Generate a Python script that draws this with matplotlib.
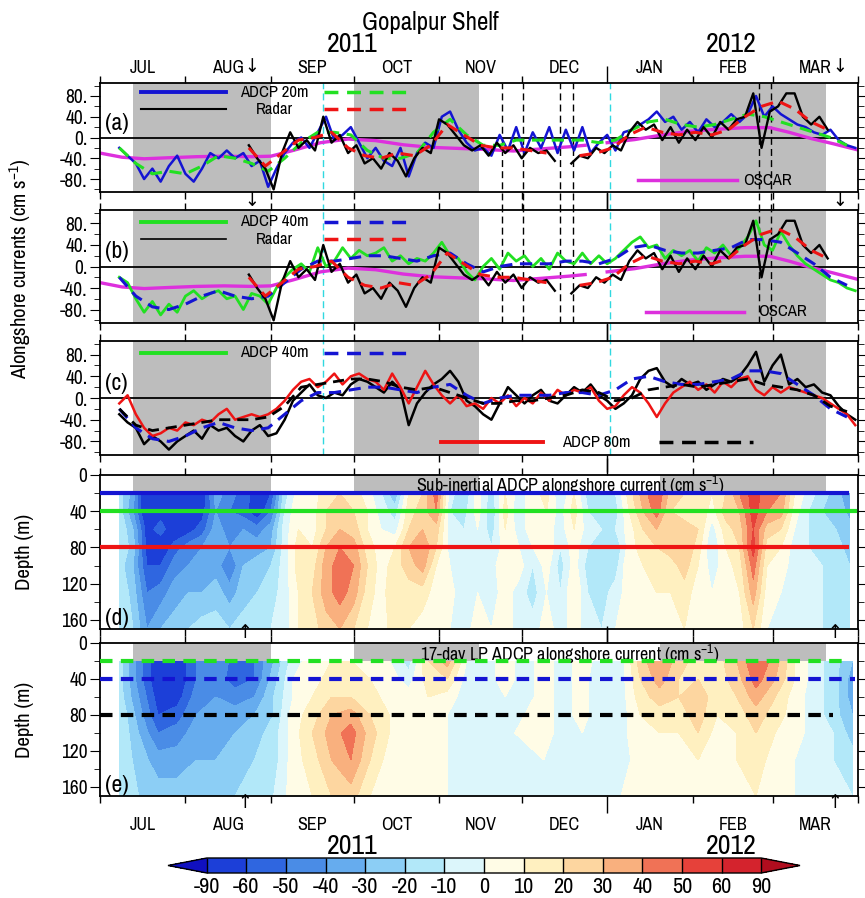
import numpy as np
import matplotlib
matplotlib.use("Agg")
import matplotlib.pyplot as plt
from matplotlib.colors import ListedColormap, BoundaryNorm
from matplotlib.transforms import blended_transform_factory
from matplotlib import font_manager

# narrow sans if one is installed, otherwise DejaVu
narrow = [f.name for f in font_manager.fontManager.ttflist
          if "Narrow" in f.name or "Condensed" in f.name]
plt.rcParams["font.family"] = narrow[:1] + ["DejaVu Sans"]
plt.rcParams["font.stretch"] = "condensed"
plt.rcParams["font.weight"] = "bold"
plt.rcParams["mathtext.default"] = "regular"

nan = np.nan

# time axis: days since 2011-07-01
month_start = [0, 31, 62, 92, 123, 153, 184, 215, 244, 275]
month_name = ["JUL", "AUG", "SEP", "OCT", "NOV", "DEC", "JAN", "FEB", "MAR"]

gray_spans = [(12, 62), (92, 137.5), (203, 263.5)]
cyan_days = [81, 185]
event_days = [146, 153.5, 167, 171.5, 239, 243.5]
down_arrow_days = [55, 268.5]
up_arrow_days = [52.5, 266.5]

# ADCP 20 m alongshore current, 3-day samples from day 7
adcp20 = [-20, -35, -50, -80, -60, -85, -55, -35, -70, -85,
          -60, -30, -40, -25, -40, -30, -55, -45, -95, -60,
          -30, -10, 0, -20, 10, 40, -5, 5, 20, -10,
          -40, -20, -45, -55, -20, -75, -30, -10, -20, 40,
          50, 15, -10, -25, -20, -35, 5, -25, 20, -30,
          10, -20, 20, -30, 15, -25, 20, -30, -10, 5,
          -25, 10, 15, 25, 35, 50, 30, 40, 15, 30,
          10, 35, 20, 30, 45, 30, 45, 80, 40, 60,
          45, 35, 25, 20, 10, 5, 15, -5, -15, -20]
# low-passed ADCP 20 m, 6-day samples from day 7
adcp20_lp = [-20, -50, -70, -65, -70, -55, -35, -40, -50, -65,
             -40, -10, 10, 10, 5, -25, -40, -40, -30, 10,
             35, 5, -15, -15, -5, -5, -5, -5, -5, -10,
             -5, 15, 30, 35, 25, 20, 25, 35, 45, 40,
             30, 20, 10, 0, -15]

adcp40 = [-20, -30, -60, -85, -65, -90, -70, -85, -55, -45,
          -60, -50, -45, -60, -55, -80, -50, -55, -70, -40,
          -20, -5, 5, -10, 35, 0, 10, 35, 15, 30,
          20, 25, 35, 10, 20, 5, 15, 10, 25, 45,
          20, 15, -10, -25, 0, 15, -5, 25, 10, 20,
          0, 15, -5, 25, 10, 5, 25, 5, 20, 5,
          15, 30, 45, 55, 35, 40, 15, 30, 20, 30,
          10, 35, 25, 40, 20, 35, 55, 85, 40, 30,
          65, 40, 20, 5, -5, -15, -25, -30, -40, -45]
adcp40_lp = [-20, -55, -75, -80, -70, -55, -45, -55, -60, -55,
             -30, -5, 10, 10, 15, 20, 20, 15, 10, 20,
             25, 5, -10, 0, 5, 5, 5, 10, 10, 5,
             15, 35, 40, 30, 25, 25, 30, 35, 50, 50,
             45, 25, 5, -20, -35]

adcp_c_solid = [-30, -45, -55, -85, -70, -80, -95, -80, -70, -60,
                -75, -50, -60, -55, -70, -80, -60, -50, -70, -65,
                -40, -5, 10, 25, 5, 0, 10, 5, 25, 35,
                30, 20, 10, 30, 15, -50, -10, 10, 25, 35,
                50, 30, -5, -15, -30, -40, -10, 20, 5, -10,
                5, 15, -5, -10, 5, 20, 10, 25, 5, -5,
                -20, -10, 5, 35, 50, 55, 30, 20, 35, 25,
                30, 15, 25, 35, 30, 40, 60, 85, 30, 60,
                80, 25, 35, 20, 25, 10, 5, -15, -30, -40]
adcp80 = [-10, 5, -30, -55, -70, -65, -55, -60, -45, -50,
          -40, -45, -30, -20, -40, -35, -30, -35, -30, -20,
          -5, 15, 30, 35, 20, 30, 45, 25, 40, 45,
          35, 30, 15, 45, 20, -10, 20, 50, 25, 5,
          -10, 5, -15, -10, -20, 0, -10, 5, -15, 0,
          -10, 10, -5, 15, 5, 15, 10, 20, -5, -20,
          -15, 5, 20, 10, -10, -35, -10, 10, 20, 30,
          15, 25, 10, 30, 20, 35, 40, 15, 5, 20,
          10, 20, 15, 10, 5, 0, -10, -20, -30, -50]
adcp80_lp = [-20, -50, -60, -55, -50, -45, -40, -40, -40, -35,
             -15, 20, 25, 30, 35, 35, 30, 20, 15, 20,
             10, 0, -10, -10, -5, -5, 0, 5, 15, 10,
             -5, 0, 15, 20, 25, 20, 25, 30, 35, 25,
             20, 15, 5, -15, -25]

# HF radar, 3-day samples from day 54 (gap in mid December)
radar = [-15, -40, -60, -100, -30, 10, -20, -5, -25, 40,
         -10, 5, -30, -15, -50, -40, -60, -30, -45, -75,
         -40, -20, -30, 35, 25, 5, -15, -25, -15, -35,
         -10, -30, -15, -40, -20, -30, -25, -45, nan, -50,
         -35, -40, -20, -30, -15, -25, 10, 30, 15, 25,
         -5, 20, -10, 15, -5, 20, 0, 30, 15, 35,
         40, 85, -20, 50, 60, 85, 85, 40, 25, 40,
         15]
radar_lp = [-20, -55, -30, -5, 0, 10, -20, -35, -40, -30,
            -35, -15, 25, 5, -15, -20, -20, -25, -30, nan,
            -35, -30, -20, 5, 20, 10, 5, 10, 5, 15,
            40, 60, 70, 55, 30, 15]

oscar_day = [0, 8, 16, 25, 35, 45, 55, 62, 70, 80,
             90, 100, 110, 120, 130, 140, 150, 160, 170, 176,
             180, 184, 194, 204, 214, 224, 234, 243, 250, 258,
             266, 275]
oscar = [-30, -38, -41, -39, -37, -36, -37, -36, -25, -10,
         -3, -6, -14, -19, -21, -23, -26, -22, -18, -15,
         nan, -10, -4, 5, 12, 16, 19, 19, 10, -2,
         -12, -24]

depth_levels = [20, 40, 60, 80, 100, 130, 170]

# sub-inertial ADCP current profiles, every 5 days from day 7 (20 m ... 170 m)
sub_inertial_cols = [
    [-15, -15, -10, -10, -15, -10, -10], [-35, -40, -30, -25, -30, -25, -20],
    [-80, -75, -65, -65, -60, -50, -40], [-70, -65, -55, -70, -60, -45, -30],
    [-85, -75, -70, -55, -45, -35, -25], [-75, -70, -65, -45, -40, -30, -20],
    [-70, -65, -55, -40, -35, -30, -15], [-35, -40, -35, -30, -35, -25, -15],
    [-45, -50, -45, -40, -50, -35, -20], [-55, -55, -40, -30, -30, -25, -15],
    [-65, -70, -45, -35, -25, -20, -15], [-60, -50, -35, -30, -20, -15, -10],
    [-15, -10, -5, -5, -5, -5, -5], [5, 10, 10, 15, 15, 10, 10],
    [5, 5, 5, 10, 15, 20, 15], [15, 20, 20, 30, 35, 35, 25],
    [20, 25, 30, 40, 45, 45, 30], [15, 20, 25, 35, 40, 35, 20],
    [5, 10, 10, 15, 20, 15, 10], [-10, -5, 0, 5, 5, 5, 5],
    [-30, -15, -5, 10, 15, 20, 15], [10, 15, 20, 30, 25, 15, 10],
    [20, 25, 30, 40, 35, 15, 5], [45, 40, 25, 20, 10, 5, 0],
    [-5, -10, -5, -5, 0, 5, 0], [-20, -15, -10, -5, -5, -10, -5],
    [5, 5, 0, -5, -5, 0, 5], [-15, -20, -15, -10, -5, -5, 0],
    [10, 15, 10, 5, 10, 5, 5], [-5, -10, -5, 0, 5, -5, -5],
    [5, 10, 5, 0, -10, -15, -5], [15, 10, 5, 10, 5, 0, 5],
    [-10, -5, -5, -10, -15, -10, -5], [10, 15, 10, 5, 5, 10, 5],
    [-15, -10, -5, -10, -15, -10, -5], [-20, -15, -10, -15, -20, -15, -10],
    [-10, -15, -10, -20, -15, -5, 0], [15, 10, 5, 5, 10, 5, 5],
    [35, 30, 20, 15, 10, 10, 5], [50, 45, 30, 20, 15, 10, 5],
    [25, 20, 30, 25, 15, 10, 5], [20, 15, 25, 30, 25, 15, 10],
    [15, 20, 20, 15, 10, 5, 5], [10, 5, -5, -10, -5, 0, 0],
    [20, 25, 15, 10, 5, 5, 5], [40, 30, 25, 20, 15, 10, 5],
    [55, 55, 50, 55, 45, 35, 20], [45, 40, 25, 15, 10, 5, 0],
    [40, 35, 20, 10, 5, 0, -5], [10, 5, 0, -5, -5, -10, -5],
    [-5, -10, -10, -10, -5, -5, -5], [-15, -20, -15, -15, -10, -10, -10],
    [-25, -20, -20, -15, -15, -10, -10], [-40, -35, -25, -25, -20, -15, -10],
]

# 17-day low-passed profiles, weekly from day 7
lp17_cols = [
    [-15, -15, -15, -10, -10, -10, -10], [-45, -45, -40, -35, -30, -25, -20],
    [-70, -70, -65, -60, -50, -35, -25], [-70, -70, -65, -55, -45, -35, -25],
    [-50, -50, -45, -40, -35, -30, -20], [-40, -45, -40, -35, -35, -30, -20],
    [-55, -55, -45, -35, -30, -25, -20], [-50, -50, -40, -30, -25, -20, -15],
    [-30, -25, -20, -20, -15, -15, -10], [-5, 0, 0, 5, 5, 5, 5],
    [5, 5, 10, 15, 20, 15, 10], [10, 15, 20, 30, 35, 30, 20],
    [10, 15, 20, 35, 45, 40, 25], [5, 10, 15, 20, 25, 20, 10],
    [0, 5, 5, 10, 10, 5, 5], [-15, -5, 5, 10, 10, 5, 5],
    [20, 15, 10, 10, 5, 5, 5], [35, 20, 5, 0, 0, 0, 0],
    [0, -5, -5, -5, -5, -5, 0], [-5, -5, -5, -5, -5, -10, -5],
    [5, 5, 0, 0, -5, -5, 0], [-5, -5, -5, 0, 5, -10, -5],
    [5, 5, 5, 5, 5, 0, 0], [-5, -5, -5, -5, -5, -5, 0],
    [5, 5, 5, 5, 0, 0, 0], [-5, -10, -10, -10, -10, -5, -5],
    [-5, -5, -5, -5, -5, -5, 0], [25, 20, 15, 10, 10, 5, 5],
    [40, 35, 25, 15, 10, 5, 5], [25, 20, 20, 15, 10, 5, 5],
    [15, 20, 25, 25, 20, 10, 5], [15, 15, 15, 10, 5, 5, 5],
    [30, 25, 20, 15, 10, 10, 5], [50, 45, 35, 25, 20, 15, 10],
    [35, 30, 20, 15, 10, 5, 5], [10, 10, 5, 5, 5, 0, 0],
    [-5, -5, -5, -5, -5, -5, -5], [-15, -15, -15, -15, -10, -10, -5],
    [-30, -35, -35, -30, -25, -15, -10],
]

levels = [-90, -60, -50, -40, -30, -20, -10, 0, 10, 20, 30, 40, 50, 60, 90]
level_colors = ["#1c3fd8", "#2f66e0", "#4a8ce6", "#66acee", "#8ccef5", "#b2e8f9",
                "#dcf6fb", "#fffce6", "#fff0c0", "#fdd6a0", "#f9b07e", "#f07256",
                "#e6413a", "#d4232d"]
under_color = "#1010c0"
over_color = "#b00d1e"

GRAY = "#bdbdbd"
BLUE = "#1414d2"
GREEN = "#22e022"
RED = "#ee1414"
MAGENTA = "#dd30dd"
CYAN = "#30d8e0"

W, H = 865, 898


def frame(top, bottom, left=100, right=858):
    return [left / W, 1 - bottom / H, (right - left) / W, (bottom - top) / H]


def days_from(start, step, n):
    return start + step * np.arange(n)


def time_axis(ax, top_labels=False, bottom_labels=False):
    ax.set_xlim(0, 274)
    ax.set_xticks(month_start)
    ax.set_xticklabels([])
    mids = [(a + b) / 2 for a, b in zip(month_start[:-1], month_start[1:])]
    ax.set_xticks(mids, minor=True)
    ax.set_xticklabels(month_name, minor=True)
    ax.tick_params(axis="x", which="major", direction="out", length=5, width=1,
                   top=True, bottom=True)
    ax.tick_params(axis="x", which="minor", length=0, labelsize=13,
                   labeltop=top_labels, labelbottom=bottom_labels, pad=5)
    if bottom_labels:
        ax.tick_params(axis="x", which="minor", pad=15)
    # longer tick at the year boundary
    jan = ax.xaxis.get_major_ticks()[month_start.index(184)]
    jan.tick1line.set_markersize(12)
    jan.tick2line.set_markersize(12)
    for s in ax.spines.values():
        s.set_linewidth(1.3)


def y_ticks(ax):
    ax.tick_params(axis="y", which="both", direction="out", left=True, right=True,
                   labelsize=14, pad=2)
    ax.tick_params(axis="y", which="major", length=7)
    ax.tick_params(axis="y", which="minor", length=4)


def series_axis(ax, tag):
    time_axis(ax)
    ax.set_ylim(-105, 105)
    for x0, x1 in gray_spans:
        ax.axvspan(x0, x1, color=GRAY, lw=0, zorder=0)
    ax.axhline(0, color="k", lw=1.3, zorder=1)
    ax.set_yticks([-80, -40, 0, 40, 80])
    ax.set_yticklabels(["-80.", "-40.", "0.", "40.", "80."])
    ax.set_yticks(np.arange(-100, 101, 20), minor=True)
    y_ticks(ax)
    ax.text(0.006, 0.63, tag, transform=ax.transAxes, fontsize=17, va="center",
            fontweight="normal")


def key(ax, x0, x1, y, **kw):
    ax.plot([x0, x1], [y, y], transform=ax.transAxes, clip_on=False, **kw)


def legend_text(ax, x, y, s):
    ax.text(x, y, s, transform=ax.transAxes, ha="center", va="center", fontsize=12)


def arrows(ax, days, y, glyph):
    tr = blended_transform_factory(ax.transData, ax.transAxes)
    for d in days:
        ax.text(d, y, glyph, transform=tr, ha="center", va="center", fontsize=14,
                clip_on=False, family="DejaVu Sans", fontweight="normal")


fig = plt.figure(figsize=(W / 100, H / 100), dpi=100)
ax_a = fig.add_axes(frame(83, 192))
ax_b = fig.add_axes(frame(210, 323))
ax_c = fig.add_axes(frame(341, 455))
ax_d = fig.add_axes(frame(475, 629))
ax_e = fig.add_axes(frame(643, 796))

t3 = days_from(7, 3, len(adcp20))
t6 = days_from(7, 6, len(adcp20_lp))
tr3 = days_from(54, 3, len(radar))
tr6 = days_from(54, 6, len(radar_lp))

dash = (0, (4, 2.5))

# (a) ADCP 20 m vs radar
series_axis(ax_a, "(a)")
time_axis(ax_a, top_labels=True)
ax_a.plot(oscar_day, oscar, color=MAGENTA, lw=2.4, zorder=2)
ax_a.plot(t3, adcp20, color=BLUE, lw=1.8, zorder=3)
ax_a.plot(t6, adcp20_lp, color=GREEN, lw=2.2, ls=dash, zorder=4)
ax_a.plot(tr3, radar, color="k", lw=1.7, zorder=5)
ax_a.plot(tr6, radar_lp, color=RED, lw=2.2, ls=dash, zorder=6)
key(ax_a, 0.054, 0.166, 0.917, color=BLUE, lw=2.8)
key(ax_a, 0.295, 0.406, 0.917, color=GREEN, lw=2.5, ls=dash)
key(ax_a, 0.054, 0.166, 0.76, color="k", lw=1.5)
key(ax_a, 0.295, 0.406, 0.76, color=RED, lw=2.5, ls=dash)
legend_text(ax_a, 0.23, 0.917, "ADCP 20m")
legend_text(ax_a, 0.23, 0.76, "Radar")
key(ax_a, 0.71, 0.84, 0.11, color=MAGENTA, lw=2.5)
legend_text(ax_a, 0.88, 0.11, "OSCAR")

# (b) ADCP 40 m vs radar
series_axis(ax_b, "(b)")
ax_b.plot(oscar_day, oscar, color=MAGENTA, lw=2.4, zorder=2)
ax_b.plot(t3, adcp40, color=GREEN, lw=2, zorder=3)
ax_b.plot(t6, adcp40_lp, color=BLUE, lw=2.2, ls=dash, zorder=4)
ax_b.plot(tr3, radar, color="k", lw=1.7, zorder=5)
ax_b.plot(tr6, radar_lp, color=RED, lw=2.2, ls=dash, zorder=6)
key(ax_b, 0.054, 0.166, 0.894, color=GREEN, lw=2.8)
key(ax_b, 0.295, 0.406, 0.894, color=BLUE, lw=2.5, ls=dash)
key(ax_b, 0.054, 0.166, 0.743, color="k", lw=1.2)
key(ax_b, 0.295, 0.406, 0.743, color=RED, lw=2.5, ls=dash)
legend_text(ax_b, 0.23, 0.894, "ADCP 40m")
legend_text(ax_b, 0.23, 0.743, "Radar")
key(ax_b, 0.72, 0.85, 0.10, color=MAGENTA, lw=2.5)
legend_text(ax_b, 0.90, 0.10, "OSCAR")

# (c) ADCP 40 m vs 80 m
series_axis(ax_c, "(c)")
ax_c.plot(t3, adcp_c_solid, color="k", lw=1.8, zorder=3)
ax_c.plot(t3, adcp80, color=RED, lw=1.8, zorder=4)
ax_c.plot(t6, adcp40_lp, color=BLUE, lw=2.2, ls=dash, zorder=5)
ax_c.plot(t6, adcp80_lp, color="k", lw=2, ls=dash, zorder=6)
key(ax_c, 0.054, 0.166, 0.895, color=GREEN, lw=2.8)
key(ax_c, 0.295, 0.406, 0.895, color=BLUE, lw=2.5, ls=dash)
legend_text(ax_c, 0.23, 0.895, "ADCP 40m")
key(ax_c, 0.45, 0.585, 0.114, color=RED, lw=2.8)
key(ax_c, 0.737, 0.862, 0.114, color="k", lw=2.5, ls=dash)
legend_text(ax_c, 0.655, 0.114, "ADCP 80m")

# event markers across (a) and (b)
for d in cyan_days:
    ax_a.axvline(d, ymin=-0.17, ymax=1, color=CYAN, lw=1, ls=(0, (5, 3)), clip_on=False, zorder=1)
    ax_b.axvline(d, ymin=-0.16, ymax=1, color=CYAN, lw=1, ls=(0, (5, 3)), clip_on=False, zorder=1)
    ax_c.axvline(d, color=CYAN, lw=1, ls=(0, (5, 3)), zorder=1)
for d in event_days:
    ax_a.axvline(d, ymin=-0.17, ymax=1, color="k", lw=1, ls=(0, (5, 3)), clip_on=False, zorder=1)
    ax_b.axvline(d, color="k", lw=1, ls=(0, (5, 3)), zorder=1)

arrows(ax_a, down_arrow_days, 1.15, "↓")
arrows(ax_a, down_arrow_days, -0.075, "↓")

# depth-time sections
cmap = ListedColormap(level_colors)
cmap.set_under(under_color)
cmap.set_over(over_color)
norm = BoundaryNorm(levels, cmap.N)

sub_days = days_from(7, 5, len(sub_inertial_cols))
lp_days = days_from(7, 7, len(lp17_cols))
sub_grid = np.array(sub_inertial_cols).T
lp_grid = np.array(lp17_cols).T


def depth_axis(ax, days, grid, tag, title, title_y):
    time_axis(ax)
    ax.set_ylim(170, 0)
    for x0, x1 in gray_spans:
        ax.fill_between([x0, x1], 0, 20, color=GRAY, lw=0, zorder=0)
    cs = ax.contourf(days, depth_levels, grid, levels=levels, cmap=cmap, norm=norm,
                     extend="both", zorder=1)
    ax.set_yticks([0, 40, 80, 120, 160])
    ax.set_yticks(np.arange(0, 171, 20), minor=True)
    y_ticks(ax)
    ax.text(0.006, 0.07, tag, transform=ax.transAxes, fontsize=17, va="center",
            fontweight="normal")
    ax.text(0.62, title_y, title, transform=ax.transAxes, ha="center",
            va="center", fontsize=13)
    return cs


cs = depth_axis(ax_d, sub_days, sub_grid, "(d)",
                "Sub-inertial ADCP alongshore current (cm s$^{-1}$)", 0.935)
ax_d.plot([0, 271], [20, 20], color=BLUE, lw=3, zorder=3)
ax_d.plot([0, 274], [40, 40], color=GREEN, lw=3, zorder=3)
ax_d.plot([0, 271], [80, 80], color=RED, lw=3, zorder=3)
arrows(ax_d, up_arrow_days, -0.02, "↑")

depth_axis(ax_e, lp_days, lp_grid, "(e)",
           "17-day LP ADCP alongshore current (cm s$^{-1}$)", 0.925)
time_axis(ax_e, bottom_labels=True)
ax_e.plot([0, 271], [20, 20], color=GREEN, lw=3, ls=(0, (3, 2)), zorder=3)
ax_e.plot([0, 274], [40, 40], color=BLUE, lw=3, ls=(0, (3, 2)), zorder=3)
ax_e.plot([0, 266], [80, 80], color="k", lw=3, ls=(0, (3, 2)), zorder=3)
arrows(ax_e, up_arrow_days, -0.04, "↑")

# titles and labels
fig.text(430 / W, 1 - 23 / H, "Gopalpur Shelf", ha="center", va="center", fontsize=18,
         fontweight="normal")
for x, yr in [(352, "2011"), (731, "2012")]:
    fig.text(x / W, 1 - 45 / H, yr, ha="center", va="center", fontsize=20, fontweight="normal")
    fig.text(x / W, 1 - 846 / H, yr, ha="center", va="center", fontsize=20, fontweight="normal")
fig.text(20 / W, 1 - 269 / H, "Alongshore currents (cm s$^{-1}$)", rotation=90,
         ha="center", va="center", fontsize=15)
fig.text(24 / W, 1 - 552 / H, "Depth (m)", rotation=90, ha="center", va="center", fontsize=15)
fig.text(24 / W, 1 - 720 / H, "Depth (m)", rotation=90, ha="center", va="center", fontsize=15)

cax = fig.add_axes([168 / W, 1 - 873 / H, 632 / W, 15 / H])
cb = fig.colorbar(cs, cax=cax, orientation="horizontal", extendfrac=0.07,
                  ticks=levels, drawedges=True)
cb.ax.tick_params(length=0, labelsize=16, pad=3)
cb.ax.set_xticklabels([str(v) for v in levels])
for t in cb.ax.get_xticklabels():
    t.set_fontweight("normal")
cb.outline.set_linewidth(1)
cb.dividers.set_linewidth(1)

fig.savefig("out.png", dpi=100)
